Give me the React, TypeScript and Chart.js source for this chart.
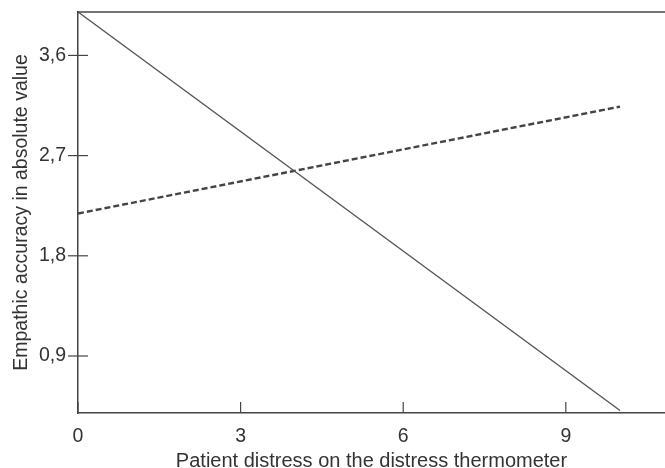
import React, { useEffect, useRef } from "react";
import { Chart, registerables } from "chart.js";

Chart.register(...registerables);

const xTickValues = [0, 3, 6, 9];
const yTickValues = [0.9, 1.8, 2.7, 3.6];
const solidX = [0, 10];
const solidY = [3.99, 0.41];
const dashedX = [0, 10];
const dashedY = [2.18, 3.14];
const xTitle = "Patient distress on the distress thermometer";
const yTitle = "Empathic accuracy in absolute value";

const FONT = "'Liberation Sans', Arial, sans-serif";
const AXIS = "#444444";
const TEXT = "#333333";

const tickPlugin = {
  id: "customTicks",
  afterDraw(chart: any) {
    const ctx = chart.ctx;
    const { left, top, bottom } = chart.chartArea;
    const xs = chart.scales.x;
    const ys = chart.scales.y;
    ctx.save();
    ctx.strokeStyle = AXIS;
    ctx.lineWidth = 1.5;
    ctx.beginPath();
    ctx.moveTo(left, top);
    ctx.lineTo(chart.width, top);
    ctx.stroke();
    ctx.lineWidth = 1.2;
    xTickValues.forEach((v) => {
      const px = xs.getPixelForValue(v);
      ctx.beginPath();
      ctx.moveTo(px, bottom);
      ctx.lineTo(px, bottom - 11);
      ctx.stroke();
    });
    yTickValues.forEach((v) => {
      const py = ys.getPixelForValue(v);
      ctx.beginPath();
      ctx.moveTo(left - 10, py);
      ctx.lineTo(left + 10, py);
      ctx.stroke();
    });
    ctx.restore();
  },
};

export default function App() {
  const ref = useRef<HTMLCanvasElement | null>(null);
  useEffect(() => {
    document.body.style.margin = "0";
    const canvas = ref.current!;
    const chart = new Chart(canvas, {
      type: "scatter",
      data: {
        datasets: [
          {
            data: solidX.map((x, i) => ({ x, y: solidY[i] })),
            showLine: true,
            borderColor: "#555555",
            borderWidth: 1.4,
            pointRadius: 0,
          },
          {
            data: dashedX.map((x, i) => ({ x, y: dashedY[i] })),
            showLine: true,
            borderColor: "#444444",
            borderWidth: 2.4,
            borderDash: [6, 3],
            pointRadius: 0,
          },
        ],
      },
      options: {
        animation: false,
        responsive: false,
        layout: { padding: { top: 12, right: 0, left: 0, bottom: 0 } },
        plugins: { legend: { display: false }, tooltip: { enabled: false } },
        scales: {
          x: {
            type: "linear",
            min: 0,
            max: 10.83,
            afterBuildTicks: (s: any) => {
              s.ticks = xTickValues.map((value) => ({ value }));
            },
            afterFit: (s: any) => {
              s.height = 55;
              s.paddingLeft = 0;
              s.paddingRight = 0;
            },
            grid: { display: false },
            border: { display: true, color: AXIS, width: 1.5 },
            ticks: {
              color: TEXT,
              font: { family: FONT, size: 19.5 },
              padding: 4,
              maxRotation: 0,
              callback: (v: any) => String(v),
            },
            title: {
              display: true,
              text: xTitle,
              color: TEXT,
              font: { family: FONT, size: 20 },
              padding: { top: 0, bottom: -5 },
            },
          },
          y: {
            type: "linear",
            min: 0.388,
            max: 3.99,
            afterBuildTicks: (s: any) => {
              s.ticks = yTickValues.map((value) => ({ value }));
            },
            afterFit: (s: any) => {
              s.width = 78;
              s.paddingTop = 0;
              s.paddingBottom = 0;
            },
            grid: { display: false },
            border: { display: true, color: AXIS, width: 1.5 },
            ticks: {
              color: TEXT,
              font: { family: FONT, size: 19.5 },
              padding: 4,
              callback: (v: any) => Number(v).toFixed(1).replace(".", ","),
            },
            title: {
              display: true,
              text: yTitle,
              color: TEXT,
              font: { family: FONT, size: 19.5 },
              padding: { top: 10, bottom: 0 },
            },
          },
        },
      },
      plugins: [tickPlugin],
    } as any);
    return () => chart.destroy();
  }, []);
  return <canvas ref={ref} width={665} height={468} style={{ display: "block" }} />;
}
